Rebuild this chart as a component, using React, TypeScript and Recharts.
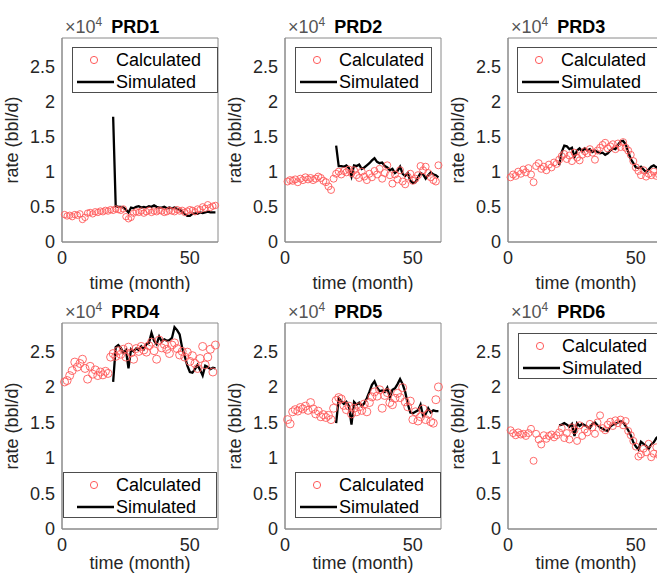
import React from "react"
import { ComposedChart, Scatter, Line, XAxis, YAxis, ReferenceArea } from "recharts"

// calculated rates (bbl/d), one value per month starting at month 1
const PRD1_CALC = [3900, 3700, 3800, 3600, 3900, 3800, 4000, 3200, 3500, 4100, 4200, 4000, 4300, 4200, 4400, 4300, 4500, 4400, 4600, 4500, 4700, 4600, 4500, 4700, 3600, 3300, 3500, 4100, 4300, 4200, 4400, 4100, 4300, 4500, 4200, 4400, 4300, 4500, 4400, 4200, 4300, 4500, 4400, 4300, 4600, 4400, 4500, 4200, 4400, 4600, 4500, 4300, 4700, 4600, 5000, 4800, 5300, 4900, 5100, 5200]
const PRD2_CALC = [8600, 8800, 8700, 8900, 8500, 9000, 8800, 9200, 8900, 9100, 8800, 9000, 9300, 9100, 8700, 8500, 7900, 7400, 9000, 9700, 10000, 9600, 10100, 9900, 10300, 9800, 10200, 9500, 9100, 10000, 9300, 8800, 9700, 9200, 10100, 9600, 10400, 9000, 9800, 10900, 9500, 8300, 9600, 8900, 10200, 8600, 8200, 9300, 9700, 8700, 9000, 9500, 10800, 10200, 10700, 9800, 9200, 8800, 8600, 10900]
const PRD3_CALC = [9200, 9600, 9400, 10000, 9700, 10300, 9900, 10500, 9600, 8500, 10800, 11200, 10400, 10700, 10200, 11000, 10600, 11300, 11100, 11700, 12200, 12500, 11800, 12300, 11500, 12700, 12000, 11600, 12400, 12900, 12600, 13200, 12700, 11700, 13000, 13400, 13800, 14100, 13300, 13600, 13900, 13200, 14000, 13500, 14200, 13400, 13000, 12400, 11500, 10600, 10100, 9500, 10200, 9300, 9700, 9500, 10000, 9400, 9600, 10100]
const PRD4_CALC = [20700, 20900, 21600, 22300, 23500, 22800, 23300, 23900, 22600, 21100, 22900, 21800, 22400, 21600, 22100, 21700, 22200, 21900, 24200, 24700, 24300, 25100, 24600, 25300, 24200, 25600, 24800, 23900, 25400, 25000, 25700, 25200, 24900, 25800, 26300, 25100, 23900, 26600, 25500, 26000, 25300, 24700, 25900, 26200, 25400, 24500, 25000, 24200, 24900, 23600, 24400, 23300, 22600, 24000, 25700, 23100, 24200, 25300, 22100, 25900]
const PRD5_CALC = [15400, 14800, 16500, 16800, 16600, 17100, 16900, 17300, 16700, 17800, 16900, 16200, 16600, 15800, 16100, 15700, 16000, 15400, 17000, 18100, 18500, 18300, 17400, 16800, 17300, 16200, 17000, 16500, 17200, 16700, 17600, 16500, 17800, 18600, 19300, 18700, 19600, 17000, 18800, 19200, 17800, 17500, 18400, 19100, 18500, 19900, 17900, 17200, 18000, 15400, 16500, 15200, 15800, 16900, 15400, 16200, 15100, 14900, 18200, 20000]
const PRD6_CALC = [13900, 13500, 13200, 13600, 13300, 13400, 13100, 13500, 14100, 9600, 13400, 12600, 11900, 13200, 12700, 13100, 13300, 12900, 13200, 13600, 14200, 12800, 13500, 12600, 14300, 13900, 12400, 14600, 13100, 14000, 13600, 14800, 14300, 13400, 15000, 16000, 14200, 13900, 14700, 15100, 14500, 15300, 14900, 15400, 14600, 15200, 13800, 13200, 12400, 11600, 10200, 10500, 11300, 10800, 12000, 10100, 10600, 11500, 10400, 10900]

// simulated rates (bbl/d), one value per month starting at month 20
const PRD1_SIM = [17800, 5100, 5000, 5000, 4900, 4600, 4200, 4900, 4800, 5000, 5100, 4900, 5000, 4900, 5100, 5000, 5200, 5000, 4900, 4900, 5000, 4800, 4900, 4800, 4900, 4700, 4600, 4300, 4000, 3700, 3700, 4000, 4100, 4000, 4200, 4100, 4200, 4300, 4200, 4200, 4200]
const PRD2_SIM = [13700, 10800, 10800, 10700, 10900, 10500, 9300, 10900, 10800, 11000, 10400, 10600, 10900, 11200, 11600, 11900, 11400, 11200, 11300, 10800, 10600, 10200, 10400, 9800, 10100, 10700, 9700, 9400, 9800, 8700, 8400, 8500, 9200, 9800, 9600, 9000, 9500, 9900, 9600, 9500, 9200]
const PRD3_SIM = [10900, 12800, 13700, 13600, 13200, 13400, 12100, 13000, 13300, 12900, 13300, 13000, 13200, 12800, 13000, 12800, 12600, 12700, 12400, 12600, 13000, 13300, 13200, 13800, 14300, 14400, 13900, 12800, 11800, 11200, 10600, 10500, 10700, 10300, 9900, 10300, 10700, 10900, 10600, 10800, 11000]
const PRD4_SIM = [20700, 25600, 25900, 25500, 24800, 25200, 22600, 25300, 25000, 25400, 25200, 25700, 25300, 26000, 26200, 27600, 26500, 26000, 27100, 26400, 26700, 26500, 26600, 26900, 28400, 28000, 27400, 25500, 24300, 23000, 22100, 22000, 22500, 23100, 22400, 21600, 23000, 22800, 22500, 22700, 22600]
const PRD5_SIM = [14900, 18400, 18000, 17600, 17900, 17300, 14700, 17900, 17500, 17800, 17300, 17700, 18400, 19300, 20300, 20800, 19900, 19400, 19500, 19300, 19900, 18500, 19600, 19800, 20400, 21100, 20400, 19300, 17600, 16400, 16300, 16500, 16700, 17500, 15900, 16200, 17000, 16400, 16700, 16600, 16600]
const PRD6_SIM = [14600, 14700, 14900, 14700, 14400, 14800, 13100, 14900, 14500, 14800, 14600, 14400, 14200, 14800, 15000, 14600, 14300, 14100, 13900, 13800, 14400, 14700, 14800, 15000, 15200, 15000, 14500, 13900, 13200, 12200, 11600, 11200, 12300, 12000, 11700, 11300, 11900, 12200, 12800, 13100, 13300]

const CALC_START = 1
const SIM_START = 20
const X_TICKS = [0, 50]
const Y_TICKS = [0, 5000, 10000, 15000, 20000, 25000]
const SERIES_NAMES = ["Calculated", "Simulated"]

const FONT = '"Liberation Sans", Arial, Helvetica, sans-serif'
const AXIS = "#8a8a8a"
const TEXT = "#262626"
const RED = "#ff5a5a"

const toPoints = (values: number[], start: number) =>
  values.map((rate, i) => ({ month: start + i, rate }))

const panels = [
  { name: "PRD1", calc: PRD1_CALC, sim: PRD1_SIM, x: 62, y: 38, h: 204, legend: { left: 10, top: 9, width: 146, pad: 0 }, r: 3.2, xlab: 3 },
  { name: "PRD2", calc: PRD2_CALC, sim: PRD2_SIM, x: 285, y: 38, h: 204, legend: { left: 10, top: 9, width: 137, pad: 0 }, r: 3.5, xlab: 3 },
  { name: "PRD3", calc: PRD3_CALC, sim: PRD3_SIM, x: 508, y: 38, h: 204, legend: { left: 9, top: 9, width: 146, pad: 0 }, r: 3.5, xlab: 3 },
  { name: "PRD4", calc: PRD4_CALC, sim: PRD4_SIM, x: 62, y: 323, h: 206, legend: { left: 1, top: 149, width: 154, pad: 9 }, r: 4, xlab: 10 },
  { name: "PRD5", calc: PRD5_CALC, sim: PRD5_SIM, x: 285, y: 323, h: 206, legend: { left: 10, top: 149, width: 146, pad: 0 }, r: 4, xlab: 10 },
  { name: "PRD6", calc: PRD6_CALC, sim: PRD6_SIM, x: 508, y: 323, h: 206, legend: { left: 10, top: 10, width: 146, pad: 0 }, r: 3.5, xlab: 10 },
]

function LegendBox({ left, top, width, pad }: { left: number; top: number; width: number; pad: number }) {
  return (
    <div
      style={{
        position: "absolute",
        left,
        top,
        width,
        height: 46,
        boxSizing: "border-box",
        border: "1px solid #4d4d4d",
        background: "#fff",
        fontFamily: FONT,
        fontSize: 18,
        color: "#000",
      }}
    >
      {SERIES_NAMES.map((name, i) => (
        <div key={name} style={{ position: "absolute", left: pad, top: i === 0 ? 2 : 24, height: 20, display: "flex", alignItems: "center" }}>
          <svg width={43} height={20}>
            {i === 0 ? (
              <circle cx={21} cy={10} r={3.6} fill="none" stroke={RED} strokeWidth={1} />
            ) : (
              <line x1={4} x2={41} y1={10} y2={10} stroke="#000" strokeWidth={2.3} />
            )}
          </svg>
          <span style={{ lineHeight: "20px" }}>{name}</span>
        </div>
      ))}
    </div>
  )
}

function Panel({ p }: { p: (typeof panels)[number] }) {
  const calc = toPoints(p.calc, CALC_START)
  const sim = toPoints(p.sim, SIM_START)
  const top = 30
  return (
    <div style={{ position: "absolute", left: p.x - 60, top: p.y - top, width: 220, height: top + p.h + 50 }}>
      <ComposedChart width={220} height={top + p.h + 50} margin={{ top, right: 4, left: 0, bottom: 0 }}>
        <XAxis
          dataKey="month"
          type="number"
          domain={[0, 61]}
          ticks={X_TICKS}
          height={50}
          stroke={AXIS}
          tickLine={false}
          tickSize={5}
          tickMargin={4}
          tick={{ fontSize: 18, fill: TEXT, fontFamily: FONT }}
          label={{ value: "time (month)", position: "insideBottom", offset: p.xlab, fill: TEXT, fontSize: 18, fontFamily: FONT }}
        />
        <YAxis
          type="number"
          domain={[0, 29000]}
          ticks={Y_TICKS}
          interval={0}
          width={60}
          stroke={AXIS}
          tickLine={false}
          tickSize={5}
          tickMargin={2}
          tickFormatter={(v) => String(v / 10000)}
          tick={{ fontSize: 18, fill: TEXT, fontFamily: FONT }}
          label={{ value: "rate (bbl/d)", angle: -90, position: "insideLeft", offset: 10, fill: TEXT, fontSize: 18, fontFamily: FONT, style: { textAnchor: "middle" } }}
        />
        <ReferenceArea x1={0} x2={61} y1={0} y2={29000} fill="none" stroke={AXIS} strokeWidth={1} ifOverflow="visible" />
        <Scatter
          data={calc}
          dataKey="rate"
          isAnimationActive={false}
          shape={(s: any) => <circle cx={s.cx} cy={s.cy} r={p.r} fill="none" stroke={RED} strokeWidth={0.9} />}
        />
        <Line data={sim} dataKey="rate" type="linear" stroke="#000" strokeWidth={2.3} dot={false} isAnimationActive={false} />
      </ComposedChart>
      <div style={{ position: "absolute", left: 63, top: 10, whiteSpace: "nowrap", fontFamily: FONT, fontSize: 18, lineHeight: "18px" }}>
        <span style={{ color: "#555" }}>
          ×10<sup style={{ fontSize: 12, verticalAlign: "7px", lineHeight: 0 }}>4</sup>
        </span>
        <span style={{ fontWeight: "bold", color: "#000", marginLeft: 9 }}>{p.name}</span>
      </div>
      <LegendBox left={60 + p.legend.left} top={top + p.legend.top} width={p.legend.width} pad={p.legend.pad} />
    </div>
  )
}

export default function App() {
  return (
    <div style={{ position: "fixed", left: 0, top: 0, width: 657, height: 579, overflow: "hidden", background: "#fff" }}>
      {panels.map((p) => (
        <Panel key={p.name} p={p} />
      ))}
    </div>
  )
}
